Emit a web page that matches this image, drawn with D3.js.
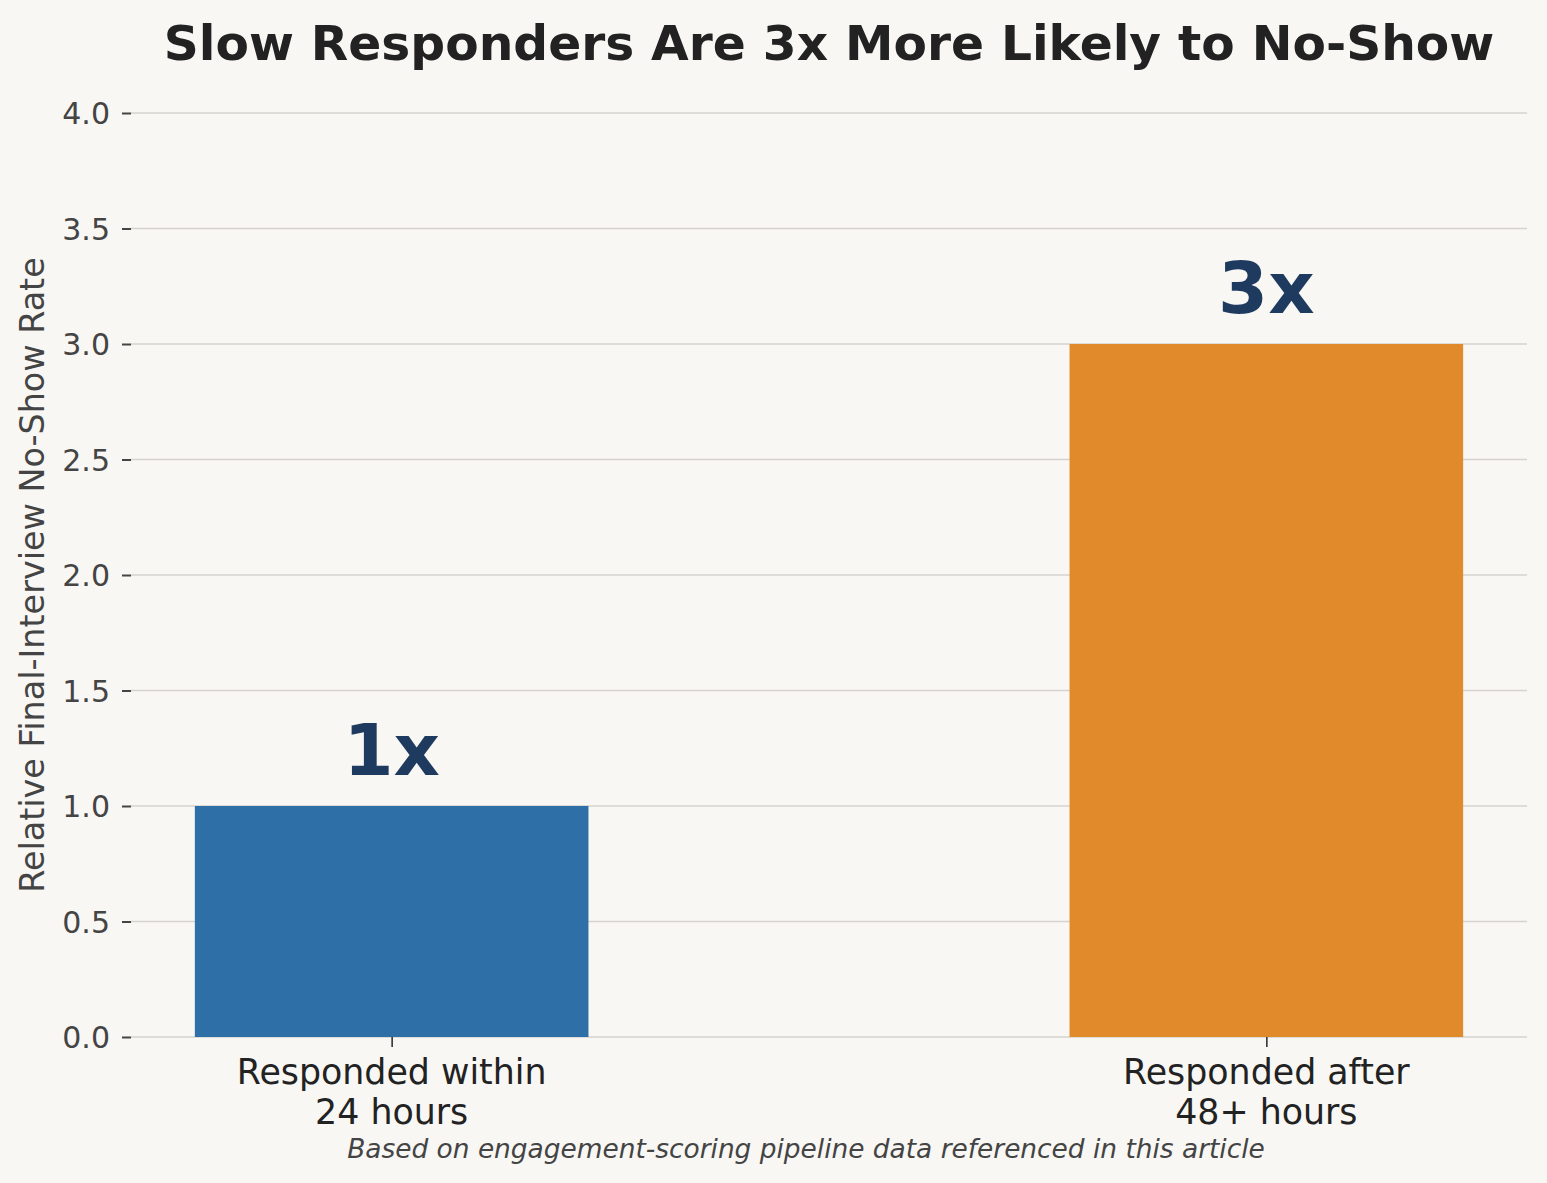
<!DOCTYPE html>
<html>
<head>
<meta charset="utf-8">
<script src="https://cdn.jsdelivr.net/npm/d3@7"></script>
<style>
  html, body { margin: 0; padding: 0; background: #f8f7f4; }
  svg { display: block; }
  text { font-family: "DejaVu Sans", sans-serif; }
</style>
</head>
<body>
<script>
const categories = [["Responded within", "24 hours"], ["Responded after", "48+ hours"]];
const values = [1, 3];
const valueLabels = ["1x", "3x"];
const barColors = ["#2e6fa7", "#e08a2c"];
const yTicks = [0, 0.5, 1.0, 1.5, 2.0, 2.5, 3.0, 3.5, 4.0];
const title = "Slow Responders Are 3x More Likely to No-Show";
const yLabel = "Relative Final-Interview No-Show Rate";
const footnote = "Based on engagement-scoring pipeline data referenced in this article";

const W = 1547, H = 1183;
const m = { left: 131, right: 20, top: 113, bottom: 146 };
const svg = d3.select("body").append("svg").attr("width", W).attr("height", H);
svg.append("rect").attr("width", W).attr("height", H).attr("fill", "#f8f7f4");

const x = d3.scaleLinear().domain([-0.298, 1.298]).range([m.left, W - m.right]);
const y = d3.scaleLinear().domain([0, 4]).range([H - m.bottom, m.top]);
const barW = 0.45;

// gridlines
svg.append("g").selectAll("line").data(yTicks).join("line")
  .attr("x1", m.left).attr("x2", W - m.right)
  .attr("y1", d => y(d)).attr("y2", d => y(d))
  .attr("stroke", "#d6d3ce").attr("stroke-width", 1.6);

// bars
svg.append("g").selectAll("rect").data(values).join("rect")
  .attr("x", (d, i) => x(i - barW / 2))
  .attr("width", (d, i) => x(i + barW / 2) - x(i - barW / 2))
  .attr("y", d => y(d))
  .attr("height", d => y(0) - y(d))
  .attr("fill", (d, i) => barColors[i]);

// value labels
svg.append("g").selectAll("text").data(values).join("text")
  .attr("x", (d, i) => x(i))
  .attr("y", d => y(d) - 31)
  .attr("text-anchor", "middle")
  .attr("font-size", 72).attr("font-weight", "bold")
  .attr("fill", "#1f3a5f")
  .text((d, i) => valueLabels[i]);

// y axis
const yAxis = d3.axisLeft(y).tickValues(yTicks).tickFormat(d3.format(".1f")).tickSize(9).tickPadding(12);
const gy = svg.append("g").attr("transform", `translate(${m.left},0)`).call(yAxis);
gy.select(".domain").remove();
gy.selectAll(".tick line").attr("stroke", "#444").attr("stroke-width", 2);
gy.selectAll(".tick text").attr("fill", "#444").attr("font-size", 30)
  .attr("font-family", "DejaVu Sans").attr("dy", "0.36em");

// x axis
const xAxis = d3.axisBottom(x).tickValues([0, 1]).tickFormat("").tickSize(10);
const gx = svg.append("g").attr("transform", `translate(0,${y(0)})`).call(xAxis);
gx.select(".domain").remove();
gx.selectAll(".tick line").attr("stroke", "#333").attr("stroke-width", 1.6);
const xl = svg.append("g").selectAll("text").data(categories).join("text")
  .attr("text-anchor", "middle").attr("font-size", 34.8).attr("fill", "#222");
xl.each(function (d, i) {
  const t = d3.select(this);
  d.forEach((line, j) => {
    t.append("tspan").attr("x", x(i)).attr("y", 1084 + j * 39.5).text(line);
  });
});

// y label
svg.append("text")
  .attr("transform", `translate(44,${(y(0) + y(4)) / 2}) rotate(-90)`)
  .attr("text-anchor", "middle").attr("font-size", 33.4).attr("fill", "#444")
  .text(yLabel);

// title
svg.append("text")
  .attr("x", (m.left + W - m.right) / 2).attr("y", 60)
  .attr("text-anchor", "middle").attr("font-size", 48.7).attr("font-weight", "bold")
  .attr("fill", "#222").text(title);

// footnote
svg.append("text")
  .attr("x", 806).attr("y", 1158)
  .attr("text-anchor", "middle").attr("font-size", 26.4).attr("font-style", "italic")
  .attr("fill", "#444").text(footnote);
</script>
</body>
</html>
